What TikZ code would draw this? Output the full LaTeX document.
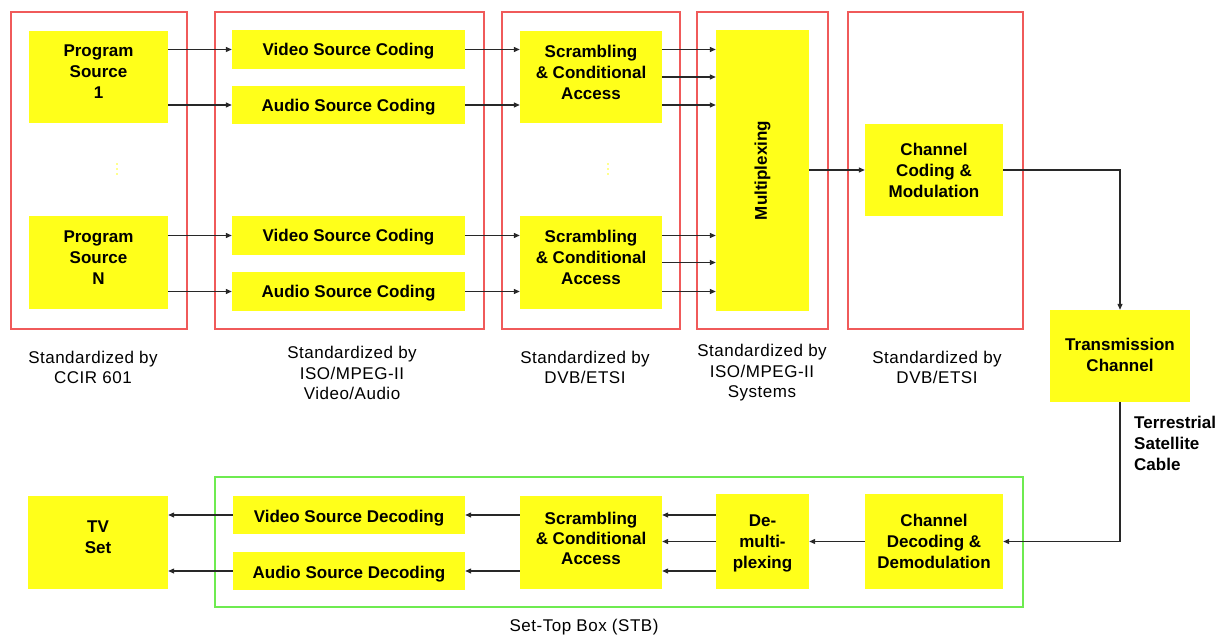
\documentclass[tikz,border=0pt]{standalone}
\usepackage{fontspec}
\setmainfont{Liberation Sans}
\newfontfamily\lblfam[LetterSpace=3]{Liberation Sans}
\usetikzlibrary{arrows.meta}
\definecolor{yb}{RGB}{255,255,26}
\definecolor{fr}{RGB}{240,90,90}
\definecolor{fg}{RGB}{110,235,80}
\definecolor{ln}{RGB}{40,40,40}
\tikzset{
  blk/.style={fill=yb, inner sep=0pt},
  txt/.style={inner sep=0pt, align=center, font=\bfseries\fontsize{17}{21}\selectfont},
  redframe/.style={draw=fr, line width=1.4pt},
  greenframe/.style={draw=fg, line width=1.4pt},
  conn/.style={draw=ln, line width=1.2pt, -{Triangle[length=6pt,width=5pt]}},
  lbl/.style={align=center, inner sep=0pt, font=\lblfam\fontsize{17}{20.5}\selectfont},
  dotc/.style={fill=yb, draw=none}
}
\begin{document}
\begin{tikzpicture}[x=1pt,y=-1pt]
\useasboundingbox[fill=white] (0,0) rectangle (1220,636);
% frames
\draw[redframe] (11,12) rectangle (187,329);
\draw[redframe] (215,12) rectangle (484,329);
\draw[redframe] (502,12) rectangle (680,329);
\draw[redframe] (697,12) rectangle (828,329);
\draw[redframe] (848,12) rectangle (1023,329);
\draw[greenframe] (215,477) rectangle (1023,607);
% blocks top
\node[blk, minimum width=139pt, minimum height=92pt] (ps1) at (98.5,77) {};
\node[txt] (ps1t) at ([yshift=5pt]ps1.center) {Program\\Source\\1};
\node[blk, minimum width=139pt, minimum height=93pt] (psN) at (98.5,262.5) {};
\node[txt] (psNt) at ([yshift=5pt]psN.center) {Program\\Source\\N};
\node[blk, minimum width=233pt, minimum height=39pt] (vsc1) at (348.5,49.5) {};
\node[txt] (vsc1t) at ([yshift=-2pt]vsc1.center) {Video Source Coding};
\node[blk, minimum width=233pt, minimum height=38pt] (asc1) at (348.5,105) {};
\node[txt] (asc1t) at ([yshift=-2pt]asc1.center) {Audio Source Coding};
\node[blk, minimum width=233pt, minimum height=39pt] (vsc2) at (348.5,235.5) {};
\node[txt] (vsc2t) at ([yshift=-2pt]vsc2.center) {Video Source Coding};
\node[blk, minimum width=233pt, minimum height=39pt] (asc2) at (348.5,291.5) {};
\node[txt] (asc2t) at ([yshift=-2pt]asc2.center) {Audio Source Coding};
\node[blk, minimum width=142pt, minimum height=92pt] (sca1) at (591,77) {};
\node[txt] (sca1t) at ([yshift=5pt]sca1.center) {Scrambling\\\& Conditional\\Access};
\node[blk, minimum width=142pt, minimum height=93pt] (sca2) at (591,262.5) {};
\node[txt] (sca2t) at ([yshift=5pt]sca2.center) {Scrambling\\\& Conditional\\Access};
\node[blk, minimum width=93pt, minimum height=281pt] (mux) at (762.5,170.5) {};
\node[txt, rotate=90] (muxt) at (mux.center) {Multiplexing};
\node[blk, minimum width=138pt, minimum height=92pt] (ccm) at (934,170) {};
\node[txt] (ccmt) at (ccm.center) {Channel\\Coding \&\\Modulation};
\node[blk, minimum width=140pt, minimum height=92pt] (trc) at (1120,356) {};
\node[txt] (trct) at ([yshift=1pt]trc.center) {Transmission\\Channel};
% vertical dots
\foreach \yy in {164,169,174} {
  \fill[dotc] (117,\yy) circle (0.9pt);
  \fill[dotc] (608,\yy) circle (0.9pt);
}
% blocks bottom
\node[blk, minimum width=140pt, minimum height=93pt] (tv) at (98,542.5) {};
\node[txt] (tvt) at ([yshift=5pt]tv.center) {TV\\Set};
\node[blk, minimum width=232pt, minimum height=38pt] (vsd) at (349,515) {};
\node[txt] (vsdt) at ([yshift=-3pt]vsd.center) {Video Source Decoding};
\node[blk, minimum width=232pt, minimum height=38pt] (asd) at (349,571) {};
\node[txt] (asdt) at ([yshift=-3pt]asd.center) {Audio Source Decoding};
\node[blk, minimum width=142pt, minimum height=93pt] (scb) at (591,542.5) {};
\node[txt, font=\bfseries\fontsize{17}{20}\selectfont] (scbt) at ([yshift=4pt]scb.center) {Scrambling\\\& Conditional\\Access};
\node[blk, minimum width=93pt, minimum height=95pt] (dmx) at (762.5,541.5) {};
\node[txt] (dmxt) at ([yshift=-2pt]dmx.center) {De-\\multi-\\plexing};
\node[blk, minimum width=138pt, minimum height=95pt] (cdd) at (934,541.5) {};
\node[txt] (cddt) at (cdd.center) {Channel\\Decoding \&\\Demodulation};
% labels
\node[lbl] (l1) at (93,367.5) {Standardized by\\CCIR 601};
\node[lbl] (l2) at (352,373) {Standardized by\\ISO/MPEG-II\\Video/Audio};
\node[lbl] (l3) at (585,367.5) {Standardized by\\DVB/ETSI};
\node[lbl] (l4) at (762,373) {Standardized by\\ISO/MPEG-II\\Systems};
\node[lbl] (l5) at (937,367.5) {Standardized by\\DVB/ETSI};
\node[lbl] (stb) at (584,627) {Set-Top Box (STB)};
\node[txt, align=left, anchor=west] (terr) at (1134,443) {Terrestrial\\Satellite\\Cable};
% connectors top
\draw[conn] (ps1.east |- vsc1) -- (vsc1.west);
\draw[conn] (ps1.east |- asc1) -- (asc1.west);
\draw[conn] (psN.east |- vsc2) -- (vsc2.west);
\draw[conn] (psN.east |- asc2) -- (asc2.west);
\draw[conn] (vsc1.east) -- (vsc1.east -| sca1.west);
\draw[conn] (asc1.east) -- (asc1.east -| sca1.west);
\draw[conn] (vsc2.east) -- (vsc2.east -| sca2.west);
\draw[conn] (asc2.east) -- (asc2.east -| sca2.west);
\draw[conn] (sca1.east |- vsc1) -- (mux.west |- vsc1);
\draw[conn] (sca1.east) -- (sca1.east -| mux.west);
\draw[conn] (sca1.east |- asc1) -- (mux.west |- asc1);
\draw[conn] (sca2.east |- vsc2) -- (mux.west |- vsc2);
\draw[conn] (sca2.east) -- (sca2.east -| mux.west);
\draw[conn] (sca2.east |- asc2) -- (mux.west |- asc2);
\draw[conn] (mux.east |- ccm) -- (ccm.west);
\draw[conn] (ccm.east) -| (trc.north);
\draw[conn] (trc.south) |- (cdd.east);
% connectors bottom
\draw[conn] (cdd.west) -- (dmx.east);
\draw[conn] (dmx.west |- vsd) -- (scb.east |- vsd);
\draw[conn] (dmx.west) -- (dmx.west -| scb.east);
\draw[conn] (dmx.west |- asd) -- (scb.east |- asd);
\draw[conn] (scb.west |- vsd) -- (vsd.east);
\draw[conn] (scb.west |- asd) -- (asd.east);
\draw[conn] (vsd.west) -- (vsd.west -| tv.east);
\draw[conn] (asd.west) -- (asd.west -| tv.east);
\end{tikzpicture}
\end{document}
